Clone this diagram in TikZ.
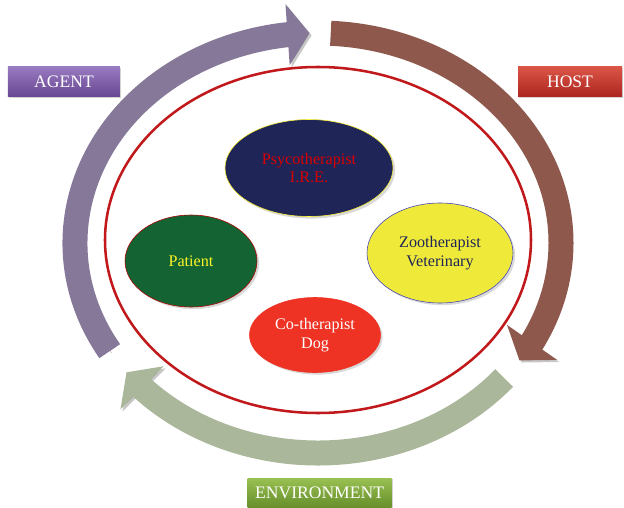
\documentclass[tikz,border=0pt]{standalone}
\usepackage{fontspec}
\setmainfont{Liberation Serif}
\usepackage{tikz}
\usetikzlibrary{arrows.meta, bending, shapes.geometric, shadows, positioning}

\definecolor{agentcol}{RGB}{134,120,152}
\definecolor{hostcol}{RGB}{142,88,76}
\definecolor{envcol}{RGB}{170,183,155}
\definecolor{ringred}{RGB}{192,24,27}
\definecolor{navy}{RGB}{31,37,87}
\definecolor{patgreen}{RGB}{19,99,51}
\definecolor{zooyellow}{RGB}{239,234,58}
\definecolor{dogred}{RGB}{238,50,36}
\definecolor{agenttop}{RGB}{152,122,192}
\definecolor{agentbot}{RGB}{104,70,146}
\definecolor{hosttop}{RGB}{218,84,70}
\definecolor{hostbot}{RGB}{172,38,32}
\definecolor{envtop}{RGB}{152,192,82}
\definecolor{envbot}{RGB}{102,142,42}

\begin{document}
\begin{tikzpicture}[
    ringarrow/.style={line width=0.625cm, -{Triangle[width=1.5cm, length=0.55cm]},
        preaction={draw=black, opacity=0.22, transform canvas={xshift=1.5pt, yshift=-1.5pt}}},
    label/.style={draw=none, minimum height=0.75cm, text=white, font=\fontsize{12.5}{14}\selectfont,
        drop shadow={opacity=0.35, shadow xshift=1pt, shadow yshift=-1pt}},
    member/.style={ellipse, inner sep=0pt, align=center, font=\fontsize{11.5}{13.5}\selectfont,
        drop shadow={opacity=0.3, shadow xshift=1.5pt, shadow yshift=-1.5pt}}
    ]
    \useasboundingbox (-7.95,-6.6) rectangle (7.65,6.075);
    % the cycle
    \draw[ringarrow, agentcol] (211:6.075 and 5.25) arc[start angle=211, end angle=92, x radius=6.075, y radius=5.25];
    \draw[ringarrow, hostcol] (87:6.075 and 5.25) arc[start angle=87, end angle=-34, x radius=6.075, y radius=5.25];
    \draw[ringarrow, envcol] (-40:6.075 and 5.25) arc[start angle=-40, end angle=-142, x radius=6.075, y radius=5.25];
    \draw[ringred, line width=1.8pt] (0,0.075) ellipse [x radius=5.325, y radius=4.325];

    \node[label, minimum width=2.8cm, top color=agenttop, bottom color=agentbot] (agent) at (-6.35,4.025) {AGENT};
    \node[label, minimum width=2.6cm, top color=hosttop, bottom color=hostbot] (host) at (6.3,4.025) {HOST};
    \node[label, minimum width=3.6cm, top color=envtop, bottom color=envbot] (env) at (0.04,-6.25) {ENVIRONMENT};

    \node[member, fill=navy, draw=yellow!80!white, thin, text=red!85!black, minimum width=4.2cm, minimum height=2.425cm] (psy) at (-0.225,1.875) {Psycotherapist\\I.R.E.};
    \node[member, fill=zooyellow, draw=blue!50!gray, thin, text=navy, minimum width=3.65cm, minimum height=2.5cm] (zoo) at (3.05,-0.25) {Zootherapist\\Veterinary};
    \node[member, fill=patgreen, draw=red!70!black, thin, text=yellow!85!white, minimum width=3.3cm, minimum height=2.3cm] (patient) at (-3.175,-0.45) {Patient};
    \node[member, fill=dogred, draw=dogred, text=white, minimum width=3.275cm, minimum height=1.875cm] (dog) at (-0.075,-2.3) {Co-therapist\\Dog};
\end{tikzpicture}
\end{document}
